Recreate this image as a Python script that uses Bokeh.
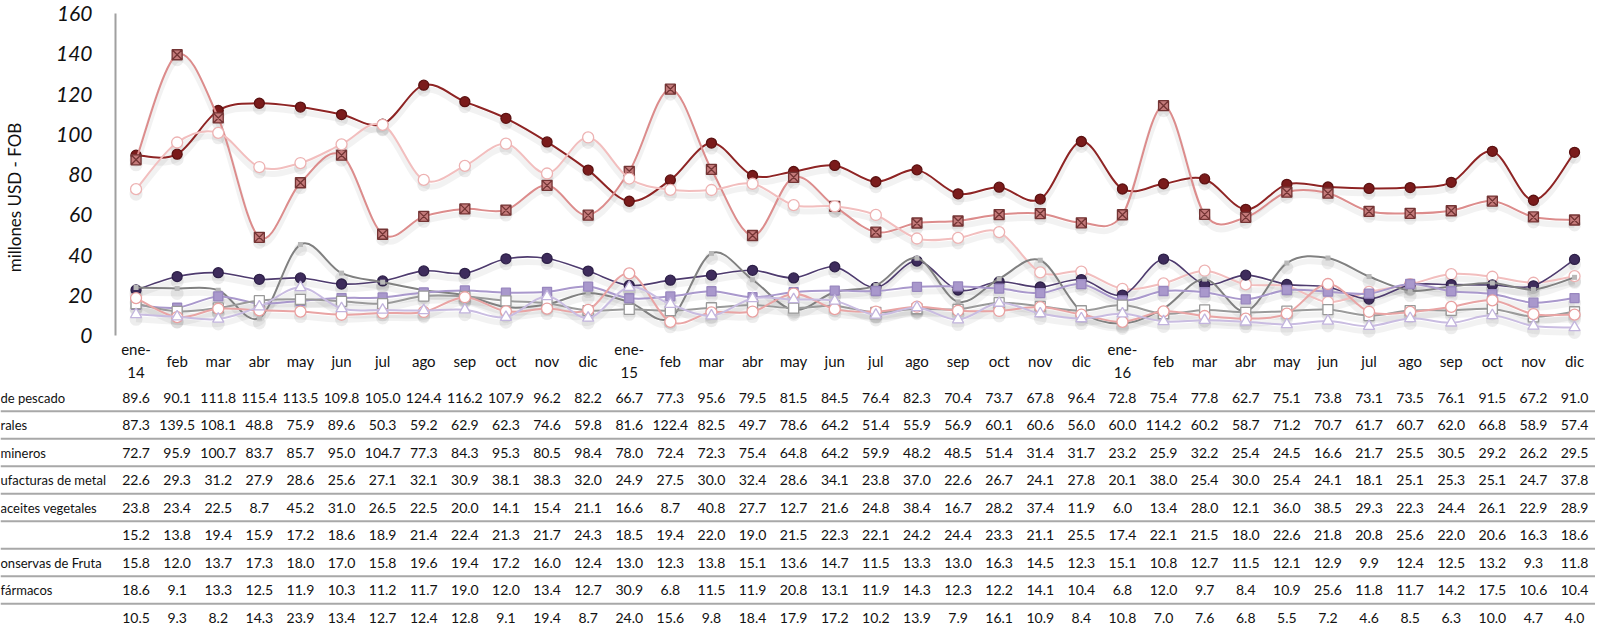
import math
from bokeh.plotting import figure
from bokeh.models import Range1d
from bokeh.embed import file_html
from bokeh.resources import INLINE
from bokeh.core.properties import value

# ---------------- data ----------------
meses = ["ene-\n14", "feb", "mar", "abr", "may", "jun", "jul", "ago", "sep", "oct", "nov", "dic",
         "ene-\n15", "feb", "mar", "abr", "may", "jun", "jul", "ago", "sep", "oct", "nov", "dic",
         "ene-\n16", "feb", "mar", "abr", "may", "jun", "jul", "ago", "sep", "oct", "nov", "dic"]

nombres = ["de pescado", "rales", "mineros", "ufacturas de metal", "aceites vegetales", "",
           "onservas de Fruta", "fármacos", ""]

pescado = [89.6, 90.1, 111.8, 115.4, 113.5, 109.8, 105.0, 124.4, 116.2, 107.9, 96.2, 82.2,
           66.7, 77.3, 95.6, 79.5, 81.5, 84.5, 76.4, 82.3, 70.4, 73.7, 67.8, 96.4,
           72.8, 75.4, 77.8, 62.7, 75.1, 73.8, 73.1, 73.5, 76.1, 91.5, 67.2, 91.0]
minerales = [87.3, 139.5, 108.1, 48.8, 75.9, 89.6, 50.3, 59.2, 62.9, 62.3, 74.6, 59.8,
             81.6, 122.4, 82.5, 49.7, 78.6, 64.2, 51.4, 55.9, 56.9, 60.1, 60.6, 56.0,
             60.0, 114.2, 60.2, 58.7, 71.2, 70.7, 61.7, 60.7, 62.0, 66.8, 58.9, 57.4]
mineros = [72.7, 95.9, 100.7, 83.7, 85.7, 95.0, 104.7, 77.3, 84.3, 95.3, 80.5, 98.4,
           78.0, 72.4, 72.3, 75.4, 64.8, 64.2, 59.9, 48.2, 48.5, 51.4, 31.4, 31.7,
           23.2, 25.9, 32.2, 25.4, 24.5, 16.6, 21.7, 25.5, 30.5, 29.2, 26.2, 29.5]
metal = [22.6, 29.3, 31.2, 27.9, 28.6, 25.6, 27.1, 32.1, 30.9, 38.1, 38.3, 32.0,
         24.9, 27.5, 30.0, 32.4, 28.6, 34.1, 23.8, 37.0, 22.6, 26.7, 24.1, 27.8,
         20.1, 38.0, 25.4, 30.0, 25.4, 24.1, 18.1, 25.1, 25.3, 25.1, 24.7, 37.8]
aceites = [23.8, 23.4, 22.5, 8.7, 45.2, 31.0, 26.5, 22.5, 20.0, 14.1, 15.4, 21.1,
           16.6, 8.7, 40.8, 27.7, 12.7, 21.6, 24.8, 38.4, 16.7, 28.2, 37.4, 11.9,
           6.0, 13.4, 28.0, 12.1, 36.0, 38.5, 29.3, 22.3, 24.4, 26.1, 22.9, 28.9]
serie6 = [15.2, 13.8, 19.4, 15.9, 17.2, 18.6, 18.9, 21.4, 22.4, 21.3, 21.7, 24.3,
          18.5, 19.4, 22.0, 19.0, 21.5, 22.3, 22.1, 24.2, 24.4, 23.3, 21.1, 25.5,
          17.4, 22.1, 21.5, 18.0, 22.6, 21.8, 20.8, 25.6, 22.0, 20.6, 16.3, 18.6]
conservas = [15.8, 12.0, 13.7, 17.3, 18.0, 17.0, 15.8, 19.6, 19.4, 17.2, 16.0, 12.4,
             13.0, 12.3, 13.8, 15.1, 13.6, 14.7, 11.5, 13.3, 13.0, 16.3, 14.5, 12.3,
             15.1, 10.8, 12.7, 11.5, 12.1, 12.9, 9.9, 12.4, 12.5, 13.2, 9.3, 11.8]
farmacos = [18.6, 9.1, 13.3, 12.5, 11.9, 10.3, 11.2, 11.7, 19.0, 12.0, 13.4, 12.7,
            30.9, 6.8, 11.5, 11.9, 20.8, 13.1, 11.9, 14.3, 12.3, 12.2, 14.1, 10.4,
            6.8, 12.0, 9.7, 8.4, 10.9, 25.6, 11.8, 11.7, 14.2, 17.5, 10.6, 10.4]
serie9 = [10.5, 9.3, 8.2, 14.3, 23.9, 13.4, 12.7, 12.4, 12.8, 9.1, 19.4, 8.7,
          24.0, 15.6, 9.8, 18.4, 17.9, 17.2, 10.2, 13.9, 7.9, 16.1, 10.9, 8.4,
          10.8, 7.0, 7.6, 6.8, 5.5, 7.2, 4.6, 8.5, 6.3, 10.0, 4.7, 4.0]

series = [pescado, minerales, mineros, metal, aceites, serie6, conservas, farmacos, serie9]

y_ticks = [0, 20, 40, 60, 80, 100, 120, 140, 160]
y_titulo = "millones USD - FOB"

# ---------------- styles ----------------
estilos = [
    dict(line="#8E2424", lw=2.0, marker="circle", size=10, fill="#7A1B1B", mline="#5C1212"),
    dict(line="#DC8C8C", lw=2.0, marker="square_x", size=10, fill="#C47A7A", mline="#743535"),
    dict(line="#F2BEBE", lw=2.0, marker="circle", size=11, fill="white", mline="#EDB2B2"),
    dict(line="#4E3B6E", lw=1.6, marker="circle", size=10, fill="#3E2C5C", mline="#2E2048"),
    dict(line="#808080", lw=2.0, marker="square", size=5, fill="#B8B8B8", mline=None),
    dict(line="#A998CC", lw=2.0, marker="square", size=9, fill="#A998CC", mline="#9886BE"),
    dict(line="#9A9A9A", lw=2.0, marker="square", size=10, fill="white", mline="#999999"),
    dict(line="#E9A4A4", lw=2.0, marker="circle", size=11, fill="white", mline="#E9A0A0"),
    dict(line="#C9BCE1", lw=2.0, marker="triangle", size=11, fill="white", mline="#C2B4DD"),
]

# ---------------- geometry (page pixels -> data) ----------------
W, H = 1595, 625            # canvas, placed at page (8, 8)
PX = 41.1                   # px per month
AX = 123                    # page x of value axis
PY = 322 / 160.0            # px per value unit
Y0 = 343                    # page y of value 0

x_start = -0.5 - (AX - 8) / PX
x_end = -0.5 + (8 + W - AX) / PX
y_top = (Y0 - 8) / PY
y_bot = -(8 + H - Y0) / PY


def ypix(page_y):
    return (Y0 - page_y) / PY


p = figure(width=W, height=H, output_backend="svg", toolbar_location=None,
           x_range=Range1d(x_start, x_end), y_range=Range1d(y_bot, y_top),
           min_border=0, x_axis_location=None, y_axis_location=None)
p.outline_line_color = None
p.grid.visible = False
p.background_fill_color = "white"
p.border_fill_color = "white"

xs = list(range(len(meses)))

# value axis
p.segment(x0=[-0.5], y0=[y_ticks[0]], x1=[-0.5], y1=[y_ticks[-1]],
          line_color="#A0A0A0", line_width=2)
p.text(x=[-0.5] * len(y_ticks), y=y_ticks, text=[str(t) for t in y_ticks],
       x_offset=-23, text_align="right", text_baseline="middle",
       text_font=value("Lato"), text_font_style="italic", text_font_size="21px",
       text_color="#111111")
p.text(x=[-0.5 - (AX - 22) / PX], y=[ypix(205)], text=[y_titulo], angle=math.pi / 2,
       text_align="center", text_baseline="middle", text_font=value("Lato"),
       text_font_size="17px", text_color="#111111")


def bez(xv, yv, dy=0.0):
    n = len(xv)
    out = dict(x0=[], y0=[], x1=[], y1=[], cx0=[], cy0=[], cx1=[], cy1=[])
    for i in range(n - 1):
        a = max(i - 1, 0)
        b = min(i + 2, n - 1)
        out["x0"].append(xv[i]); out["y0"].append(yv[i] + dy)
        out["x1"].append(xv[i + 1]); out["y1"].append(yv[i + 1] + dy)
        out["cx0"].append(xv[i] + (xv[i + 1] - xv[a]) / 6.0)
        out["cy0"].append(yv[i] + dy + (yv[i + 1] - yv[a]) / 6.0)
        out["cx1"].append(xv[i + 1] - (xv[b] - xv[i]) / 6.0)
        out["cy1"].append(yv[i + 1] + dy - (yv[b] - yv[i]) / 6.0)
    return out


# soft drop shadows (as in the original's shadow effect)
SH = -5 / PY
for vals in series:
    p.bezier(line_color="#000000", line_alpha=0.05, line_width=6, **bez(xs, vals, SH))
    p.scatter(xs, [v + SH for v in vals], marker="circle", size=13,
              fill_color="#000000", fill_alpha=0.07, line_color=None)

for vals, st in zip(series, estilos):
    p.bezier(line_color=st["line"], line_width=st["lw"], **bez(xs, vals))
    p.scatter(xs, vals, marker=st["marker"], size=st["size"], fill_color=st["fill"],
              line_color=st["mline"], line_width=1.3)

# ---------------- category labels + data table ----------------
ROW0 = 405      # page y of first table row
ROWH = 27.5     # row height in px
row_y = [ypix(ROW0 + r * ROWH) for r in range(len(series))]

p.text(x=xs, y=[ypix(368)] * len(xs), text=meses, text_align="center", text_baseline="middle",
       text_font=value("Lato"), text_font_size="15px", text_line_height=1.25, text_color="#111111")

# separators between rows
sep_y = [ypix(ROW0 + (r + 0.5) * ROWH) for r in range(len(series) - 1)]
p.segment(x0=[x_start] * len(sep_y), y0=sep_y, x1=[x_end] * len(sep_y), y1=sep_y,
          line_color="#A8A8A8", line_width=2)

tx, ty, tt = [], [], []
for r, vals in enumerate(series):
    for c, v in enumerate(vals):
        tx.append(c); ty.append(row_y[r]); tt.append(f"{v:.1f}")
p.text(x=tx, y=ty, text=tt, text_align="center", text_baseline="middle",
       text_font=value("Lato"), text_font_size="14px", text_color="#111111")

p.text(x=[x_start] * len(nombres), y=row_y, text=nombres, x_offset=0,
       text_align="left", text_baseline="middle", text_font=value("Lato"),
       text_font_size="13px", text_color="#111111")

open("out.html", "w").write(file_html(p, INLINE))
